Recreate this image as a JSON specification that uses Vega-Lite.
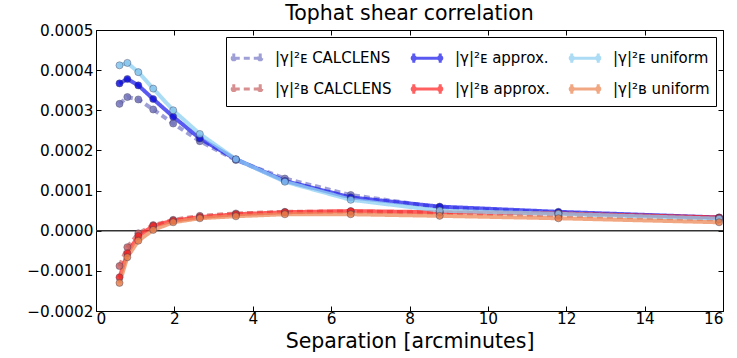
{
  "$schema": "https://vega.github.io/schema/vega-lite/v6.json",
  "width": 627,
  "height": 281,
  "autosize": "none",
  "padding": {"left": 96, "top": 30, "right": 14, "bottom": 47},
  "background": "white",
  "title": {"text": "Tophat shear correlation", "fontSize": 20.5, "font": "DejaVu Sans", "fontWeight": "normal", "color": "black", "offset": -1},
  "config": {
    "font": "DejaVu Sans",
    "view": {"stroke": "black", "strokeWidth": 1},
    "axis": {"labelFont": "DejaVu Sans", "labelFontSize": 15.3, "labelColor": "black", "titleFont": "DejaVu Sans", "titleColor": "black", "titleFontWeight": "normal", "domain": false, "grid": false, "tickColor": "black", "tickSize": -5, "labelPadding": 8}
  },
  "datasets": {
    "curves": [
      {"s": "|γ|²ᴇ CALCLENS", "x": 0.6, "y": 0.000316},
      {"s": "|γ|²ᴇ CALCLENS", "x": 0.8, "y": 0.000333},
      {"s": "|γ|²ᴇ CALCLENS", "x": 1.08, "y": 0.000327},
      {"s": "|γ|²ᴇ CALCLENS", "x": 1.46, "y": 0.000302},
      {"s": "|γ|²ᴇ CALCLENS", "x": 1.97, "y": 0.000267},
      {"s": "|γ|²ᴇ CALCLENS", "x": 2.65, "y": 0.000223},
      {"s": "|γ|²ᴇ CALCLENS", "x": 3.57, "y": 0.000176},
      {"s": "|γ|²ᴇ CALCLENS", "x": 4.82, "y": 0.00013},
      {"s": "|γ|²ᴇ CALCLENS", "x": 6.5, "y": 0.000089},
      {"s": "|γ|²ᴇ CALCLENS", "x": 8.77, "y": 0.000058},
      {"s": "|γ|²ᴇ CALCLENS", "x": 11.8, "y": 0.000045},
      {"s": "|γ|²ᴇ CALCLENS", "x": 15.9, "y": 0.000032},
      {"s": "|γ|²ʙ CALCLENS", "x": 0.6, "y": -0.000088},
      {"s": "|γ|²ʙ CALCLENS", "x": 0.8, "y": -0.000041},
      {"s": "|γ|²ʙ CALCLENS", "x": 1.08, "y": -0.0000065},
      {"s": "|γ|²ʙ CALCLENS", "x": 1.46, "y": 0.000014},
      {"s": "|γ|²ʙ CALCLENS", "x": 1.97, "y": 0.000027},
      {"s": "|γ|²ʙ CALCLENS", "x": 2.65, "y": 0.000037},
      {"s": "|γ|²ʙ CALCLENS", "x": 3.57, "y": 0.000043},
      {"s": "|γ|²ʙ CALCLENS", "x": 4.82, "y": 0.000047},
      {"s": "|γ|²ʙ CALCLENS", "x": 6.5, "y": 0.000048},
      {"s": "|γ|²ʙ CALCLENS", "x": 8.77, "y": 0.000045},
      {"s": "|γ|²ʙ CALCLENS", "x": 11.8, "y": 0.000038},
      {"s": "|γ|²ʙ CALCLENS", "x": 15.9, "y": 0.000028},
      {"s": "|γ|²ᴇ approx.", "x": 0.6, "y": 0.000367},
      {"s": "|γ|²ᴇ approx.", "x": 0.8, "y": 0.000378},
      {"s": "|γ|²ᴇ approx.", "x": 1.08, "y": 0.000362},
      {"s": "|γ|²ᴇ approx.", "x": 1.46, "y": 0.000328},
      {"s": "|γ|²ᴇ approx.", "x": 1.97, "y": 0.000284},
      {"s": "|γ|²ᴇ approx.", "x": 2.65, "y": 0.00023},
      {"s": "|γ|²ᴇ approx.", "x": 3.57, "y": 0.000178},
      {"s": "|γ|²ᴇ approx.", "x": 4.82, "y": 0.000124},
      {"s": "|γ|²ᴇ approx.", "x": 6.5, "y": 0.000083},
      {"s": "|γ|²ᴇ approx.", "x": 8.77, "y": 0.00006},
      {"s": "|γ|²ᴇ approx.", "x": 11.8, "y": 0.000047},
      {"s": "|γ|²ᴇ approx.", "x": 15.9, "y": 0.000033},
      {"s": "|γ|²ʙ approx.", "x": 0.6, "y": -0.000116},
      {"s": "|γ|²ʙ approx.", "x": 0.8, "y": -0.000056},
      {"s": "|γ|²ʙ approx.", "x": 1.08, "y": -0.000013},
      {"s": "|γ|²ʙ approx.", "x": 1.46, "y": 0.000012},
      {"s": "|γ|²ʙ approx.", "x": 1.97, "y": 0.000025},
      {"s": "|γ|²ʙ approx.", "x": 2.65, "y": 0.000034},
      {"s": "|γ|²ʙ approx.", "x": 3.57, "y": 0.000041},
      {"s": "|γ|²ʙ approx.", "x": 4.82, "y": 0.000046},
      {"s": "|γ|²ʙ approx.", "x": 6.5, "y": 0.000049},
      {"s": "|γ|²ʙ approx.", "x": 8.77, "y": 0.000046},
      {"s": "|γ|²ʙ approx.", "x": 11.8, "y": 0.000043},
      {"s": "|γ|²ʙ approx.", "x": 15.9, "y": 0.000033},
      {"s": "|γ|²ᴇ uniform", "x": 0.6, "y": 0.000412},
      {"s": "|γ|²ᴇ uniform", "x": 0.8, "y": 0.000418},
      {"s": "|γ|²ᴇ uniform", "x": 1.08, "y": 0.000395},
      {"s": "|γ|²ᴇ uniform", "x": 1.46, "y": 0.000354},
      {"s": "|γ|²ᴇ uniform", "x": 1.97, "y": 0.0003},
      {"s": "|γ|²ᴇ uniform", "x": 2.65, "y": 0.000241},
      {"s": "|γ|²ᴇ uniform", "x": 3.57, "y": 0.000178},
      {"s": "|γ|²ᴇ uniform", "x": 4.82, "y": 0.000122},
      {"s": "|γ|²ᴇ uniform", "x": 6.5, "y": 0.000077},
      {"s": "|γ|²ᴇ uniform", "x": 8.77, "y": 0.00005},
      {"s": "|γ|²ᴇ uniform", "x": 11.8, "y": 0.000042},
      {"s": "|γ|²ᴇ uniform", "x": 15.9, "y": 0.00003},
      {"s": "|γ|²ʙ uniform", "x": 0.6, "y": -0.00013},
      {"s": "|γ|²ʙ uniform", "x": 0.8, "y": -0.000066},
      {"s": "|γ|²ʙ uniform", "x": 1.08, "y": -0.000025},
      {"s": "|γ|²ʙ uniform", "x": 1.46, "y": 0.000002},
      {"s": "|γ|²ʙ uniform", "x": 1.97, "y": 0.000021},
      {"s": "|γ|²ʙ uniform", "x": 2.65, "y": 0.000031},
      {"s": "|γ|²ʙ uniform", "x": 3.57, "y": 0.000036},
      {"s": "|γ|²ʙ uniform", "x": 4.82, "y": 0.000041},
      {"s": "|γ|²ʙ uniform", "x": 6.5, "y": 0.000041},
      {"s": "|γ|²ʙ uniform", "x": 8.77, "y": 0.000037},
      {"s": "|γ|²ʙ uniform", "x": 11.8, "y": 0.000031},
      {"s": "|γ|²ʙ uniform", "x": 15.9, "y": 0.000021}
    ]
  },
  "layer": [
    {
      "data": {"values": [{"z": 0}]},
      "mark": {"type": "rule", "color": "#333333", "strokeWidth": 1.5},
      "encoding": {
        "y": {"field": "z", "type": "quantitative", "scale": {"domain": [-0.0002, 0.0005], "nice": false}, "axis": {"orient": "right", "labels": false, "title": null, "values": [-0.0002, -0.0001, 0, 0.0001, 0.0002, 0.0003, 0.0004, 0.0005]}},
        "x": {"datum": 0, "type": "quantitative", "scale": {"domain": [0, 16], "nice": false}, "axis": {"orient": "top", "labels": false, "title": null, "values": [0, 2, 4, 6, 8, 10, 12, 14, 16]}},
        "x2": {"datum": 16}
      }
    },
    {
      "data": {"name": "curves"},
      "layer": [
        {
          "mark": {"type": "line", "strokeWidth": 4, "opacity": 0.75},
          "encoding": {
            "x": {"field": "x", "type": "quantitative", "scale": {"domain": [0, 16], "nice": false}, "axis": {"orient": "bottom", "title": "Separation [arcminutes]", "titleFontSize": 20.5, "labelPadding": 5, "titlePadding": 5, "values": [0, 2, 4, 6, 8, 10, 12, 14, 16]}},
            "y": {"field": "y", "type": "quantitative", "scale": {"domain": [-0.0002, 0.0005], "nice": false}, "axis": {"orient": "left", "title": null, "format": ".4f", "values": [-0.0002, -0.0001, 0, 0.0001, 0.0002, 0.0003, 0.0004, 0.0005]}},
            "color": {
              "field": "s", "type": "nominal",
              "scale": {
                "domain": ["|γ|²ᴇ CALCLENS", "|γ|²ᴇ approx.", "|γ|²ᴇ uniform", "|γ|²ʙ CALCLENS", "|γ|²ʙ approx.", "|γ|²ʙ uniform"],
                "range": ["#8080cc", "#2222ee", "#8fd0f2", "#cc6a6a", "#ff2a2a", "#ee8a5a"]
              },
              "legend": {
                "title": null, "orient": "top-right", "offset": 7, "columns": 3, "direction": "horizontal",
                "strokeColor": "black", "fillColor": "white", "padding": 6, "cornerRadius": 0,
                "labelFont": "DejaVu Sans", "labelFontSize": 15, "labelColor": "black",
                "symbolType": "M-1,0L1,0M-1,-0.35L-1,0.35M1,-0.35L1,0.35M-0.88,0A0.12,0.12,0,1,1,-1.12,0A0.12,0.12,0,1,1,-0.88,0M1.12,0A0.12,0.12,0,1,1,0.88,0A0.12,0.12,0,1,1,1.12,0",
                "symbolSize": 700, "symbolStrokeWidth": 3,
                "columnPadding": 14, "rowPadding": 5, "labelOffset": 13
              }
            },
            "strokeDash": {
              "field": "s", "type": "nominal",
              "scale": {
                "domain": ["|γ|²ᴇ CALCLENS", "|γ|²ᴇ approx.", "|γ|²ᴇ uniform", "|γ|²ʙ CALCLENS", "|γ|²ʙ approx.", "|γ|²ʙ uniform"],
                "range": [[6, 4], [1, 0], [1, 0], [6, 4], [1, 0], [1, 0]]
              },
              "legend": null
            }
          }
        },
        {
          "mark": {"type": "point", "filled": true, "size": 50, "opacity": 0.85, "stroke": "#333355", "strokeWidth": 0.8, "strokeOpacity": 0.6},
          "encoding": {
            "x": {"field": "x", "type": "quantitative"},
            "y": {"field": "y", "type": "quantitative"},
            "fill": {"field": "s", "type": "nominal", "scale": {
                "domain": ["|γ|²ᴇ CALCLENS", "|γ|²ᴇ approx.", "|γ|²ᴇ uniform", "|γ|²ʙ CALCLENS", "|γ|²ʙ approx.", "|γ|²ʙ uniform"],
                "range": ["#7373bb", "#1111dd", "#86c6ee", "#c86060", "#ee2222", "#e8804c"]
              }, "legend": null}
          }
        }
      ]
    }
  ],
  "resolve": {"axis": {"x": "independent", "y": "independent"}}
}
